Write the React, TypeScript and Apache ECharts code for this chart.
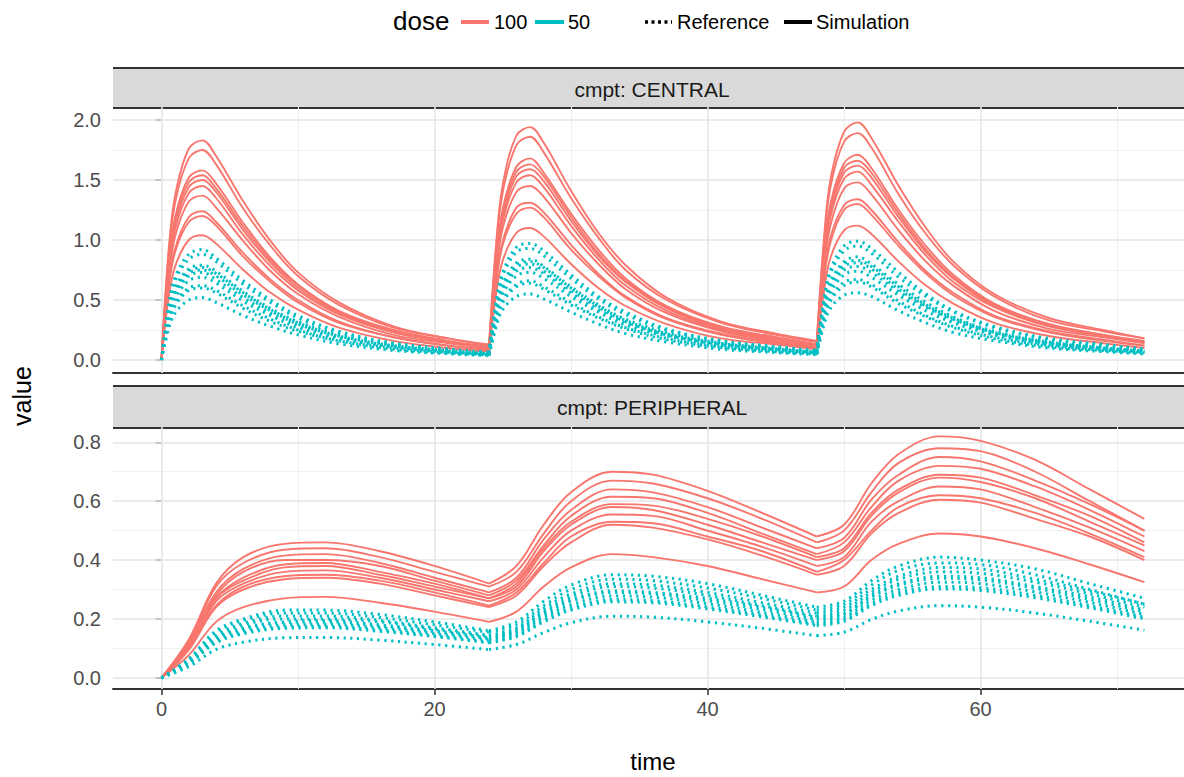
import React, { useEffect, useRef } from "react";
import * as echarts from "echarts";

// ---------- data ----------
const doseTimes = [0, 24, 48, 72];
const timeCentral = [0, 0.5, 1, 2, 3, 4, 6, 8, 10, 13, 17, 21, 24, 24.5, 25, 26, 27, 28, 30, 32, 34, 37, 41, 45, 48, 48.5, 49, 50, 51, 52, 54, 56, 58, 61, 65, 69, 72];
const timePeripheral = [0, 2, 4, 6, 9, 12, 16, 20, 24, 26, 28, 30, 33, 36, 40, 44, 48, 50, 52, 54, 57, 60, 64, 68, 72];

// CENTRAL, dose 100 (Simulation)
const centralSim1 = [0, 0.88, 1.37, 1.76, 1.83, 1.70, 1.32, 0.99, 0.73, 0.48, 0.28, 0.18, 0.13, 0.95, 1.46, 1.87, 1.94, 1.81, 1.41, 1.06, 0.79, 0.52, 0.32, 0.22, 0.16, 0.97, 1.50, 1.90, 1.98, 1.85, 1.45, 1.10, 0.82, 0.55, 0.35, 0.25, 0.18];
const centralSim2 = [0, 0.84, 1.31, 1.68, 1.75, 1.63, 1.26, 0.95, 0.70, 0.46, 0.27, 0.18, 0.12, 0.91, 1.40, 1.79, 1.86, 1.73, 1.35, 1.02, 0.75, 0.50, 0.31, 0.21, 0.15, 0.93, 1.44, 1.82, 1.89, 1.77, 1.38, 1.05, 0.79, 0.53, 0.33, 0.24, 0.18];
const centralSim3 = [0, 0.76, 1.19, 1.52, 1.58, 1.47, 1.14, 0.85, 0.63, 0.41, 0.25, 0.16, 0.11, 0.82, 1.26, 1.61, 1.68, 1.56, 1.22, 0.92, 0.68, 0.45, 0.28, 0.19, 0.13, 0.84, 1.30, 1.64, 1.71, 1.60, 1.25, 0.95, 0.71, 0.47, 0.30, 0.21, 0.16];
const centralSim4 = [0, 0.74, 1.16, 1.48, 1.54, 1.43, 1.11, 0.83, 0.62, 0.40, 0.24, 0.15, 0.11, 0.80, 1.23, 1.57, 1.63, 1.53, 1.19, 0.89, 0.66, 0.44, 0.27, 0.19, 0.13, 0.82, 1.26, 1.60, 1.66, 1.56, 1.22, 0.92, 0.69, 0.46, 0.29, 0.21, 0.15];
const centralSim5 = [0, 0.72, 1.13, 1.44, 1.50, 1.40, 1.08, 0.81, 0.60, 0.39, 0.23, 0.15, 0.11, 0.78, 1.20, 1.53, 1.59, 1.49, 1.16, 0.87, 0.65, 0.43, 0.26, 0.18, 0.13, 0.80, 1.23, 1.56, 1.62, 1.52, 1.19, 0.90, 0.68, 0.45, 0.29, 0.20, 0.15];
const centralSim6 = [0, 0.70, 1.09, 1.39, 1.45, 1.35, 1.04, 0.78, 0.58, 0.38, 0.23, 0.15, 0.10, 0.75, 1.16, 1.48, 1.54, 1.44, 1.12, 0.84, 0.62, 0.41, 0.25, 0.17, 0.12, 0.77, 1.19, 1.51, 1.57, 1.46, 1.15, 0.87, 0.65, 0.44, 0.28, 0.20, 0.15];
const centralSim7 = [0, 0.66, 1.03, 1.32, 1.37, 1.27, 0.99, 0.74, 0.55, 0.36, 0.21, 0.14, 0.10, 0.71, 1.10, 1.40, 1.45, 1.36, 1.06, 0.80, 0.59, 0.39, 0.24, 0.16, 0.12, 0.73, 1.12, 1.43, 1.48, 1.38, 1.08, 0.82, 0.62, 0.41, 0.26, 0.19, 0.14];
const centralSim8 = [0, 0.60, 0.93, 1.19, 1.24, 1.15, 0.89, 0.67, 0.50, 0.32, 0.19, 0.12, 0.09, 0.65, 0.99, 1.27, 1.31, 1.23, 0.96, 0.72, 0.53, 0.35, 0.22, 0.15, 0.11, 0.66, 1.02, 1.29, 1.34, 1.25, 0.98, 0.74, 0.56, 0.37, 0.24, 0.17, 0.12];
const centralSim9 = [0, 0.58, 0.90, 1.15, 1.20, 1.12, 0.86, 0.65, 0.48, 0.31, 0.19, 0.12, 0.08, 0.62, 0.96, 1.22, 1.27, 1.19, 0.92, 0.70, 0.52, 0.34, 0.21, 0.14, 0.10, 0.64, 0.98, 1.25, 1.30, 1.21, 0.95, 0.72, 0.54, 0.36, 0.23, 0.16, 0.12];
const centralSim10 = [0, 0.50, 0.78, 1.00, 1.04, 0.97, 0.75, 0.56, 0.42, 0.27, 0.16, 0.10, 0.07, 0.54, 0.83, 1.06, 1.10, 1.03, 0.80, 0.60, 0.45, 0.30, 0.18, 0.13, 0.09, 0.55, 0.85, 1.08, 1.12, 1.05, 0.82, 0.62, 0.47, 0.31, 0.20, 0.14, 0.10];

// CENTRAL, dose 50 (Reference)
const centralRef1 = [0, 0.44, 0.69, 0.88, 0.92, 0.85, 0.66, 0.50, 0.37, 0.24, 0.14, 0.09, 0.065, 0.48, 0.73, 0.94, 0.97, 0.91, 0.71, 0.53, 0.40, 0.26, 0.16, 0.11, 0.08, 0.49, 0.75, 0.95, 0.99, 0.93, 0.73, 0.55, 0.41, 0.28, 0.18, 0.13, 0.09];
const centralRef2 = [0, 0.42, 0.66, 0.84, 0.88, 0.82, 0.63, 0.48, 0.35, 0.23, 0.14, 0.09, 0.06, 0.46, 0.70, 0.90, 0.93, 0.87, 0.68, 0.51, 0.38, 0.25, 0.16, 0.11, 0.075, 0.47, 0.72, 0.91, 0.95, 0.89, 0.69, 0.53, 0.40, 0.27, 0.17, 0.12, 0.09];
const centralRef3 = [0, 0.38, 0.60, 0.76, 0.79, 0.74, 0.57, 0.43, 0.32, 0.21, 0.13, 0.08, 0.055, 0.41, 0.63, 0.81, 0.84, 0.78, 0.61, 0.46, 0.34, 0.23, 0.14, 0.10, 0.065, 0.42, 0.65, 0.82, 0.86, 0.80, 0.63, 0.48, 0.36, 0.24, 0.15, 0.11, 0.08];
const centralRef4 = [0, 0.37, 0.58, 0.74, 0.77, 0.72, 0.56, 0.42, 0.31, 0.20, 0.12, 0.08, 0.055, 0.40, 0.62, 0.79, 0.82, 0.77, 0.60, 0.45, 0.33, 0.22, 0.14, 0.095, 0.065, 0.41, 0.63, 0.80, 0.83, 0.78, 0.61, 0.46, 0.35, 0.23, 0.15, 0.10, 0.075];
const centralRef5 = [0, 0.36, 0.56, 0.72, 0.75, 0.70, 0.54, 0.41, 0.30, 0.20, 0.12, 0.075, 0.05, 0.39, 0.60, 0.77, 0.80, 0.74, 0.58, 0.44, 0.32, 0.21, 0.13, 0.09, 0.065, 0.40, 0.62, 0.78, 0.81, 0.76, 0.59, 0.45, 0.34, 0.23, 0.14, 0.10, 0.075];
const centralRef6 = [0, 0.35, 0.54, 0.70, 0.73, 0.67, 0.52, 0.39, 0.29, 0.19, 0.11, 0.07, 0.05, 0.38, 0.58, 0.74, 0.77, 0.72, 0.56, 0.42, 0.31, 0.21, 0.13, 0.087, 0.06, 0.38, 0.59, 0.75, 0.78, 0.73, 0.57, 0.44, 0.33, 0.22, 0.14, 0.10, 0.07];
const centralRef7 = [0, 0.33, 0.51, 0.66, 0.69, 0.64, 0.49, 0.37, 0.27, 0.18, 0.11, 0.07, 0.048, 0.36, 0.55, 0.70, 0.73, 0.68, 0.53, 0.40, 0.29, 0.20, 0.12, 0.08, 0.058, 0.36, 0.56, 0.71, 0.74, 0.69, 0.54, 0.41, 0.31, 0.21, 0.13, 0.09, 0.07];
const centralRef8 = [0, 0.30, 0.47, 0.60, 0.62, 0.58, 0.45, 0.34, 0.25, 0.16, 0.10, 0.06, 0.044, 0.32, 0.50, 0.63, 0.66, 0.61, 0.48, 0.36, 0.27, 0.18, 0.11, 0.075, 0.053, 0.33, 0.51, 0.65, 0.67, 0.63, 0.49, 0.37, 0.28, 0.19, 0.12, 0.08, 0.06];
const centralRef9 = [0, 0.29, 0.45, 0.58, 0.60, 0.56, 0.43, 0.32, 0.24, 0.16, 0.09, 0.06, 0.042, 0.31, 0.48, 0.61, 0.64, 0.59, 0.46, 0.35, 0.26, 0.17, 0.105, 0.07, 0.05, 0.32, 0.49, 0.62, 0.65, 0.61, 0.47, 0.36, 0.27, 0.18, 0.11, 0.08, 0.06];
const centralRef10 = [0, 0.25, 0.39, 0.50, 0.52, 0.48, 0.37, 0.28, 0.21, 0.135, 0.08, 0.052, 0.036, 0.27, 0.42, 0.53, 0.55, 0.51, 0.40, 0.30, 0.22, 0.15, 0.09, 0.062, 0.044, 0.28, 0.43, 0.54, 0.56, 0.53, 0.41, 0.31, 0.23, 0.16, 0.10, 0.07, 0.05];

// PERIPHERAL, dose 100 (Simulation)
const periphSim1 = [0, 0.13, 0.32, 0.41, 0.455, 0.46, 0.43, 0.38, 0.32, 0.38, 0.52, 0.63, 0.70, 0.69, 0.635, 0.56, 0.48, 0.52, 0.66, 0.76, 0.82, 0.805, 0.74, 0.64, 0.54];
const periphSim2 = [0, 0.12, 0.31, 0.39, 0.435, 0.44, 0.41, 0.36, 0.31, 0.36, 0.49, 0.60, 0.67, 0.66, 0.61, 0.54, 0.46, 0.50, 0.63, 0.73, 0.78, 0.77, 0.70, 0.60, 0.50];
const periphSim3 = [0, 0.12, 0.29, 0.37, 0.415, 0.42, 0.39, 0.34, 0.29, 0.34, 0.47, 0.57, 0.64, 0.63, 0.58, 0.51, 0.44, 0.475, 0.605, 0.69, 0.75, 0.735, 0.67, 0.59, 0.50];
const periphSim4 = [0, 0.11, 0.28, 0.36, 0.40, 0.40, 0.38, 0.33, 0.28, 0.33, 0.45, 0.55, 0.615, 0.61, 0.56, 0.49, 0.42, 0.46, 0.58, 0.67, 0.72, 0.71, 0.65, 0.57, 0.48];
const periphSim5 = [0, 0.11, 0.27, 0.34, 0.385, 0.39, 0.36, 0.32, 0.27, 0.32, 0.44, 0.53, 0.59, 0.585, 0.54, 0.48, 0.41, 0.44, 0.56, 0.64, 0.69, 0.68, 0.62, 0.55, 0.46];
const periphSim6 = [0, 0.11, 0.27, 0.33, 0.375, 0.38, 0.35, 0.31, 0.27, 0.31, 0.43, 0.52, 0.58, 0.57, 0.52, 0.46, 0.40, 0.43, 0.55, 0.63, 0.68, 0.665, 0.61, 0.53, 0.45];
const periphSim7 = [0, 0.10, 0.26, 0.32, 0.36, 0.365, 0.34, 0.30, 0.26, 0.30, 0.41, 0.50, 0.555, 0.55, 0.50, 0.445, 0.38, 0.41, 0.53, 0.60, 0.65, 0.64, 0.58, 0.51, 0.43];
const periphSim8 = [0, 0.10, 0.245, 0.31, 0.345, 0.35, 0.33, 0.29, 0.245, 0.29, 0.39, 0.48, 0.53, 0.525, 0.48, 0.43, 0.36, 0.40, 0.50, 0.58, 0.62, 0.61, 0.56, 0.49, 0.41];
const periphSim9 = [0, 0.095, 0.24, 0.30, 0.335, 0.34, 0.32, 0.28, 0.24, 0.28, 0.38, 0.46, 0.52, 0.51, 0.47, 0.415, 0.35, 0.38, 0.49, 0.56, 0.605, 0.595, 0.54, 0.48, 0.40];
const periphSim10 = [0, 0.077, 0.19, 0.24, 0.27, 0.275, 0.255, 0.225, 0.19, 0.225, 0.31, 0.375, 0.42, 0.41, 0.38, 0.335, 0.29, 0.31, 0.40, 0.455, 0.49, 0.48, 0.44, 0.385, 0.325];

// PERIPHERAL, dose 50 (Reference)
const periphRef1 = [0, 0.065, 0.16, 0.20, 0.23, 0.23, 0.215, 0.19, 0.16, 0.19, 0.26, 0.315, 0.35, 0.345, 0.32, 0.28, 0.24, 0.26, 0.33, 0.38, 0.41, 0.40, 0.37, 0.32, 0.27];
const periphRef2 = [0, 0.06, 0.155, 0.195, 0.22, 0.22, 0.205, 0.18, 0.155, 0.18, 0.245, 0.30, 0.335, 0.33, 0.305, 0.27, 0.23, 0.25, 0.315, 0.365, 0.39, 0.385, 0.35, 0.30, 0.25];
const periphRef3 = [0, 0.06, 0.145, 0.185, 0.21, 0.21, 0.195, 0.17, 0.145, 0.17, 0.235, 0.285, 0.32, 0.315, 0.29, 0.255, 0.22, 0.24, 0.30, 0.345, 0.375, 0.37, 0.335, 0.295, 0.25];
const periphRef4 = [0, 0.055, 0.14, 0.18, 0.20, 0.20, 0.19, 0.165, 0.14, 0.165, 0.225, 0.275, 0.31, 0.305, 0.28, 0.245, 0.21, 0.23, 0.29, 0.335, 0.36, 0.355, 0.325, 0.285, 0.24];
const periphRef5 = [0, 0.055, 0.135, 0.17, 0.19, 0.195, 0.18, 0.16, 0.135, 0.16, 0.22, 0.265, 0.295, 0.29, 0.27, 0.24, 0.205, 0.22, 0.28, 0.32, 0.345, 0.34, 0.31, 0.275, 0.23];
const periphRef6 = [0, 0.053, 0.133, 0.167, 0.188, 0.19, 0.176, 0.156, 0.133, 0.156, 0.213, 0.26, 0.29, 0.285, 0.262, 0.232, 0.198, 0.215, 0.274, 0.314, 0.338, 0.333, 0.304, 0.266, 0.224];
const periphRef7 = [0, 0.05, 0.128, 0.16, 0.18, 0.182, 0.17, 0.15, 0.128, 0.15, 0.205, 0.248, 0.278, 0.274, 0.252, 0.222, 0.19, 0.206, 0.263, 0.30, 0.325, 0.32, 0.292, 0.256, 0.215];
const periphRef8 = [0, 0.049, 0.122, 0.154, 0.173, 0.175, 0.163, 0.143, 0.122, 0.143, 0.196, 0.238, 0.266, 0.262, 0.241, 0.213, 0.182, 0.198, 0.252, 0.289, 0.31, 0.306, 0.28, 0.245, 0.206];
const periphRef9 = [0, 0.047, 0.119, 0.15, 0.168, 0.17, 0.158, 0.14, 0.119, 0.14, 0.19, 0.23, 0.258, 0.255, 0.234, 0.207, 0.177, 0.192, 0.245, 0.28, 0.302, 0.297, 0.272, 0.238, 0.20];
const periphRef10 = [0, 0.038, 0.096, 0.121, 0.136, 0.137, 0.128, 0.113, 0.096, 0.113, 0.154, 0.187, 0.209, 0.206, 0.19, 0.168, 0.143, 0.155, 0.198, 0.227, 0.245, 0.24, 0.22, 0.192, 0.162];

const centralSim = [centralSim1, centralSim2, centralSim3, centralSim4, centralSim5, centralSim6, centralSim7, centralSim8, centralSim9, centralSim10];
const centralRef = [centralRef1, centralRef2, centralRef3, centralRef4, centralRef5, centralRef6, centralRef7, centralRef8, centralRef9, centralRef10];
const periphSim = [periphSim1, periphSim2, periphSim3, periphSim4, periphSim5, periphSim6, periphSim7, periphSim8, periphSim9, periphSim10];
const periphRef = [periphRef1, periphRef2, periphRef3, periphRef4, periphRef5, periphRef6, periphRef7, periphRef8, periphRef9, periphRef10];

const xTicks = [0, 20, 40, 60];
const xMinor = [10, 30, 50, 70];
const yTicksCentral = [0, 0.5, 1, 1.5, 2];
const yMinorCentral = [0.25, 0.75, 1.25, 1.75];
const yTicksPeriph = [0, 0.2, 0.4, 0.6, 0.8];
const yMinorPeriph = [0.1, 0.3, 0.5, 0.7];

// ---------- styles ----------
const RED = "#F8766D";
const TEAL = "#00BFC4";
const FONT = "'Liberation Sans', Arial, Helvetica, sans-serif";
const GRID_MAJOR = { color: "#e6e6e6", width: 1.6, type: "solid" as const };
const GRID_MINOR = { color: "#f0f0f0", width: 1.1, type: "solid" as const };

function buildSeries(gridIdx: number, times: number[], values: number[], dotted: boolean) {
  const idx = doseTimes.map((d) => times.indexOf(d));
  const out: any[] = [];
  for (let k = 0; k < idx.length - 1; k++) {
    const seg: number[][] = [];
    for (let i = idx[k]; i <= idx[k + 1]; i++) seg.push([times[i], values[i]]);
    out.push({
      type: "line",
      xAxisIndex: gridIdx,
      yAxisIndex: gridIdx,
      data: seg,
      smooth: 0.35,
      symbol: "none",
      showSymbol: false,
      silent: true,
      z: dotted ? 3 : 2,
      lineStyle: dotted
        ? { color: TEAL, width: 3, type: [2.2, 4.6], cap: "butt" }
        : { color: RED, width: 1.9, type: "solid" },
    });
  }
  return out;
}

function gridSeries(gridIdx: number, yMajor: number[], yMinor: number[]) {
  const data: any[] = [];
  xMinor.forEach((v) => data.push({ xAxis: v, lineStyle: GRID_MINOR }));
  yMinor.forEach((v) => data.push({ yAxis: v, lineStyle: GRID_MINOR }));
  xTicks.forEach((v) => data.push({ xAxis: v, lineStyle: GRID_MAJOR }));
  yMajor.forEach((v) => data.push({ yAxis: v, lineStyle: GRID_MAJOR }));
  return {
    type: "line",
    xAxisIndex: gridIdx,
    yAxisIndex: gridIdx,
    data: [],
    silent: true,
    markLine: {
      silent: true,
      z: 1,
      symbol: ["none", "none"],
      label: { show: false },
      animation: false,
      data,
    },
  };
}

function xAxisCfg(gridIdx: number, showLabels: boolean) {
  return {
    type: "value",
    gridIndex: gridIdx,
    min: -3.55,
    max: 74.9,
    minInterval: 20,
    maxInterval: 20,
    axisLine: { show: true, onZero: false, lineStyle: { color: "#333333", width: 2 } },
    axisTick: { show: showLabels, length: 6, customValues: xTicks, lineStyle: { color: "#333333", width: 1.5 } },
    axisLabel: { show: showLabels, customValues: xTicks, color: "#4d4d4d", fontSize: 20, fontFamily: FONT, margin: 10 },
    splitLine: { show: false },
  };
}

function yAxisCfg(gridIdx: number, min: number, max: number, ticks: number[], interval: number) {
  return {
    type: "value",
    gridIndex: gridIdx,
    min,
    max,
    minInterval: interval,
    maxInterval: interval,
    axisLine: { show: false },
    axisTick: { show: true, length: 6, customValues: ticks, lineStyle: { color: "#333333", width: 1.5 } },
    axisLabel: {
      customValues: ticks,
      color: "#4d4d4d",
      fontSize: 20,
      fontFamily: FONT,
      margin: 12,
      formatter: (v: number) => v.toFixed(1),
    },
    splitLine: { show: false },
  };
}

export default function App() {
  const ref = useRef<HTMLDivElement>(null);
  useEffect(() => {
    if (!ref.current) return;
    const chart = echarts.init(ref.current, undefined, { renderer: "svg" });
    const series: any[] = [gridSeries(0, yTicksCentral, yMinorCentral), gridSeries(1, yTicksPeriph, yMinorPeriph)];
    centralSim.forEach((v) => series.push(...buildSeries(0, timeCentral, v, false)));
    centralRef.forEach((v) => series.push(...buildSeries(0, timeCentral, v, true)));
    periphSim.forEach((v) => series.push(...buildSeries(1, timePeripheral, v, false)));
    periphRef.forEach((v) => series.push(...buildSeries(1, timePeripheral, v, true)));

    const legendY = 21;
    const stripLines = (top: number, bottom: number) => [
      { type: "rect", shape: { x: 113, y: top, width: 1071, height: bottom - top }, style: { fill: "#d9d9d9" }, z: 0 },
      { type: "line", shape: { x1: 113, y1: top + 1, x2: 1184, y2: top + 1 }, style: { stroke: "#333333", lineWidth: 2 }, z: 1 },
      { type: "line", shape: { x1: 113, y1: bottom, x2: 1184, y2: bottom }, style: { stroke: "#333333", lineWidth: 2 }, z: 1 },
    ];

    chart.setOption({
      animation: false,
      backgroundColor: "#ffffff",
      textStyle: { fontFamily: FONT },
      grid: [
        { left: 113, right: 0, top: 107, height: 266, containLabel: false },
        { left: 113, right: 0, top: 427, height: 262, containLabel: false },
      ],
      xAxis: [xAxisCfg(0, false), xAxisCfg(1, true)],
      yAxis: [
        yAxisCfg(0, -0.108, 2.108, yTicksCentral, 0.5),
        yAxisCfg(1, -0.038, 0.852, yTicksPeriph, 0.2),
      ],
      series,
      graphic: [
        ...stripLines(67, 108),
        { type: "text", x: 652, y: 89, style: { text: "cmpt: CENTRAL", fontSize: 21, fontFamily: FONT, fill: "#1a1a1a", align: "center", verticalAlign: "middle" }, z: 2 },
        ...stripLines(385, 428),
        { type: "text", x: 652, y: 407, style: { text: "cmpt: PERIPHERAL", fontSize: 21, fontFamily: FONT, fill: "#1a1a1a", align: "center", verticalAlign: "middle" }, z: 2 },
        // axis titles
        { type: "text", x: 22, y: 396, rotation: Math.PI / 2, style: { text: "value", fontSize: 25, fontFamily: FONT, fill: "#000", align: "center", verticalAlign: "middle" } },
        { type: "text", x: 653, y: 761, style: { text: "time", fontSize: 24, fontFamily: FONT, fill: "#000", align: "center", verticalAlign: "middle" } },
        // legend
        { type: "text", x: 393, y: legendY, style: { text: "dose", fontSize: 26, fontFamily: FONT, fill: "#000", align: "left", verticalAlign: "middle" } },
        { type: "line", shape: { x1: 461, y1: legendY + 1, x2: 489, y2: legendY + 1 }, style: { stroke: RED, lineWidth: 4 } },
        { type: "text", x: 494, y: legendY + 1, style: { text: "100", fontSize: 20, fontFamily: FONT, fill: "#000", align: "left", verticalAlign: "middle" } },
        { type: "line", shape: { x1: 535, y1: legendY + 1, x2: 564, y2: legendY + 1 }, style: { stroke: TEAL, lineWidth: 4 } },
        { type: "text", x: 568, y: legendY + 1, style: { text: "50", fontSize: 20, fontFamily: FONT, fill: "#000", align: "left", verticalAlign: "middle" } },
        { type: "line", shape: { x1: 645, y1: legendY + 1, x2: 672, y2: legendY + 1 }, style: { stroke: "#000", lineWidth: 3.5, lineDash: [3, 3.5] } },
        { type: "text", x: 677, y: legendY + 1, style: { text: "Reference", fontSize: 20, fontFamily: FONT, fill: "#000", align: "left", verticalAlign: "middle" } },
        { type: "line", shape: { x1: 784, y1: legendY + 1, x2: 812, y2: legendY + 1 }, style: { stroke: "#000", lineWidth: 4 } },
        { type: "text", x: 816, y: legendY + 1, style: { text: "Simulation", fontSize: 20, fontFamily: FONT, fill: "#000", align: "left", verticalAlign: "middle" } },
      ],
    });
    return () => chart.dispose();
  }, []);
  return <div ref={ref} style={{ position: "absolute", left: 0, top: 0, width: 1184, height: 777 }} />;
}
